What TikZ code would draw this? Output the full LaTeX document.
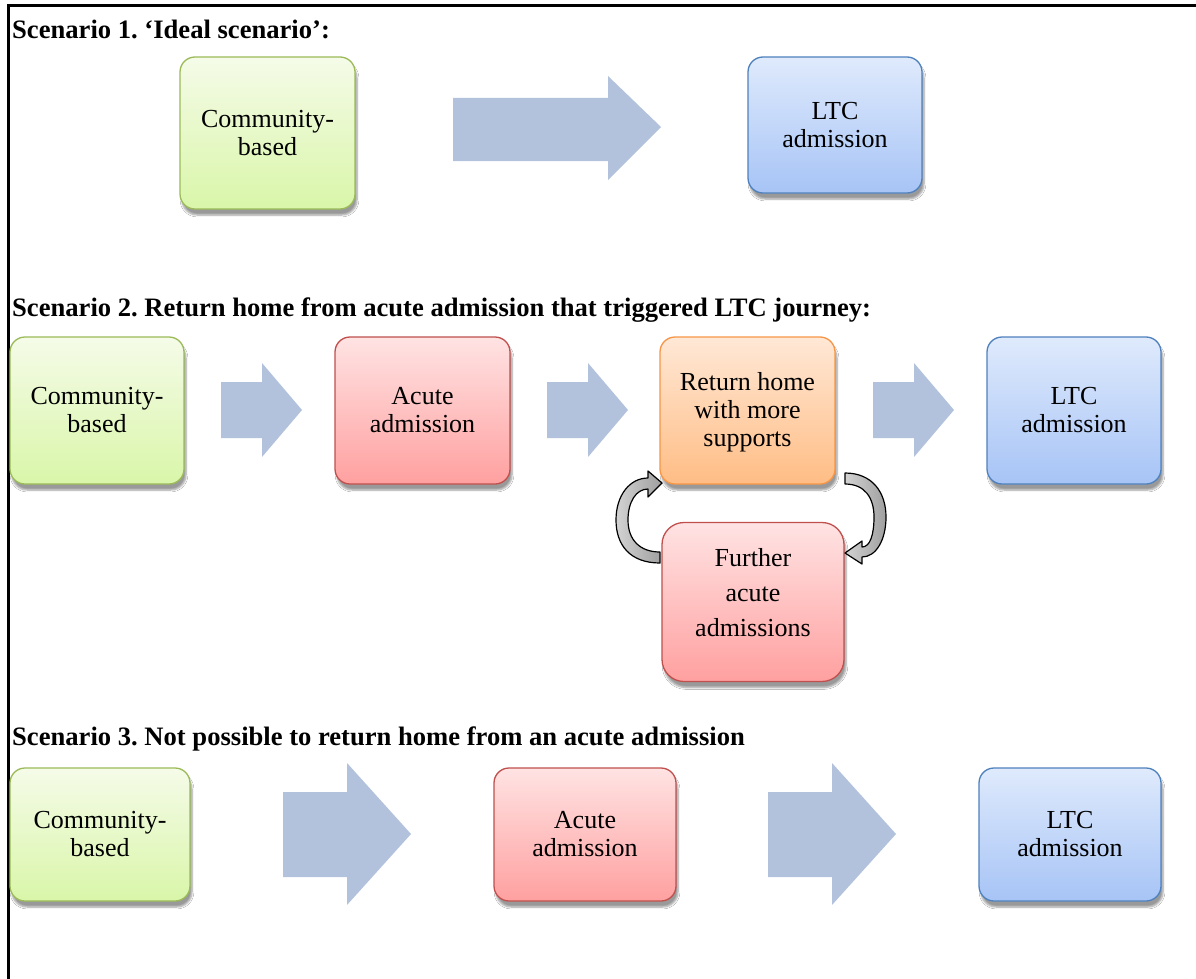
\documentclass[tikz,border=0pt]{standalone}
\usepackage{fontspec}
\setmainfont{LiberationSerif}[Extension=.ttf, UprightFont=*-Regular, BoldFont=*-Bold, ItalicFont=*-Italic, BoldItalicFont=*-BoldItalic]
\usetikzlibrary{shadows,shadows.blur}
\frenchspacing
\definecolor{grnB}{HTML}{9BBB59}
\definecolor{grnT}{HTML}{F5FBE8}
\definecolor{grnD}{HTML}{D9F6A9}
\definecolor{redB}{HTML}{C0504D}
\definecolor{redT}{HTML}{FFE3E3}
\definecolor{redD}{HTML}{FFA0A0}
\definecolor{orgB}{HTML}{F79646}
\definecolor{orgT}{HTML}{FFE8D6}
\definecolor{orgD}{HTML}{FFBD85}
\definecolor{bluB}{HTML}{4F81BD}
\definecolor{bluT}{HTML}{DFEAFC}
\definecolor{bluD}{HTML}{A7C4F6}
\definecolor{arrF}{HTML}{B3C2DC}
\tikzset{
  box/.style={draw, line width=1.3pt, rounded corners=15pt, inner sep=0pt, align=center,
    font=\fontsize{26}{28}\selectfont,
    blur shadow={shadow xshift=2pt, shadow yshift=-6pt, shadow blur steps=6}},
  greenbox/.style={box, draw=grnB, top color=grnT, bottom color=grnD},
  redbox/.style={box, draw=redB, top color=redT, bottom color=redD},
  orangebox/.style={box, draw=orgB, top color=orgT, bottom color=orgD},
  bluebox/.style={box, draw=bluB, top color=bluT, bottom color=bluD},
  blockarrow/.style={fill=arrF, draw=none},
  curvearrow/.style={draw=black, line width=1.2pt, line join=round, left color=gray!35, right color=gray!75},
  title/.style={anchor=base west, inner sep=0pt, font=\fontsize{26.6}{28}\selectfont\bfseries},
  txt/.style={inner sep=0pt, align=center}
}
\begin{document}
\begin{tikzpicture}[x=1pt,y=-1pt]
\useasboundingbox (0,0) rectangle (1196,979);
\fill[white] (0,0) rectangle (1196,979);
\draw[line width=3pt] (8,979) -- (8,6) -- (1196,6);

% Scenario 1
\node[title] (t1) at (12,39) {Scenario 1. `Ideal scenario':};
\node[greenbox, minimum width=175pt, minimum height=152pt] (c1) at (267.5,133) {Community-\\based};
\node[bluebox, minimum width=174pt, minimum height=136pt] (l1) at (835,125) {LTC\\admission};
\path[blockarrow] (453,98) -- (608,98) -- (608,76) -- (661,127) -- (608,180) -- (608,161) -- (453,161) -- cycle;

% Scenario 2
\node[title] (t2) at (12,316) {Scenario 2. Return home from acute admission that triggered LTC journey:};
\node[greenbox, minimum width=174pt, minimum height=147pt] (c2) at (97,410.5) {Community-\\based};
\node[redbox, minimum width=175pt, minimum height=147pt] (a2) at (422.5,410.5) {Acute\\admission};
\node[orangebox, minimum width=175pt, minimum height=147pt] (r2) at (747.5,410.5) {};
\node[txt, font=\fontsize{26}{28}\selectfont] (r2t) at (747.5,412) {Return home\\with more\\supports};
\node[bluebox, minimum width=174pt, minimum height=147pt] (l2) at (1074,410.5) {LTC\\admission};
\foreach \xa in {221,547,873}{
  \path[blockarrow] (\xa,382) -- (\xa+41,382) -- (\xa+41,363) -- (\xa+81,410) -- (\xa+41,457) -- (\xa+41,438) -- (\xa,438) -- cycle;
}
\node[redbox, rounded corners=22pt, minimum width=182pt, minimum height=159pt] (f2) at (753,602) {};
\node[txt, font=\fontsize{26}{35}\selectfont] (f2t) at (753,592.5) {Further\\acute\\admissions};

% curved arrows
\path[curvearrow] (660,563) .. controls (630,563) and (616,545) .. (616,520)
  .. controls (616,495) and (630,478) .. (648,478) -- (648,471) -- (662,483) -- (648,497) -- (648,489)
  .. controls (636,489) and (628,502) .. (628,520)
  .. controls (628,540) and (640,552) .. (660,552) -- cycle;
\path[curvearrow] (845,473) .. controls (872,473) and (886,492) .. (886,517)
  .. controls (886,540) and (876,557) .. (862,557) -- (862,564) -- (845,553) -- (862,541) -- (862,547)
  .. controls (870,547) and (874,535) .. (874,517)
  .. controls (874,498) and (865,484) .. (845,484) -- cycle;

% Scenario 3
\node[title] (t3) at (12,745) {Scenario 3. Not possible to return home from an acute admission};
\node[greenbox, minimum width=180pt, minimum height=133pt] (c3) at (100,834.5) {Community-\\based};
\node[redbox, minimum width=182pt, minimum height=133pt] (a3) at (585,834.5) {Acute\\admission};
\node[bluebox, minimum width=182pt, minimum height=133pt] (l3) at (1070,834.5) {LTC\\admission};
\foreach \xa in {283,768}{
  \path[blockarrow] (\xa,792) -- (\xa+64,792) -- (\xa+64,763) -- (\xa+128,834) -- (\xa+64,905) -- (\xa+64,877) -- (\xa,877) -- cycle;
}
\end{tikzpicture}
\end{document}
